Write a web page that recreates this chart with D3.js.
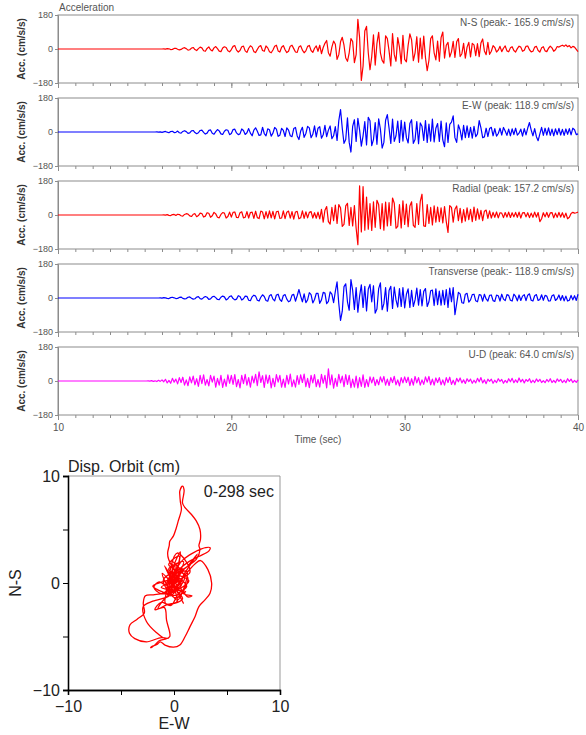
<!DOCTYPE html>
<html>
<head>
<meta charset="utf-8">
<script src="https://cdn.jsdelivr.net/npm/d3@7"></script>
<style>
body { margin: 0; background: #fff; }
svg { display: block; font-family: "Liberation Sans", Arial, sans-serif; }
</style>
</head>
<body>
<div id="chart"></div>
<script>
// samples every 0.1 s starting at 15 s (trace is flat from 10 s)
var tFirst = 10, tStart = 15, dt = 0.1;

var nsAcc = [
  0,0,0,0,0,0,0,0,0,0,
  0,1,-1,2,1,-3,-2,3,4,-1,
  -5,-2,4,7,2,-6,-4,5,8,-3,
  -8,2,10,6,-9,-12,3,11,-4,-10,
  6,13,2,-11,-14,5,12,8,-9,-15,
  -3,14,18,-6,-16,-8,12,15,-10,-18,
  4,17,10,-14,-19,-2,13,18,-8,-12,
  16,6,-15,-20,-5,14,20,-10,-16,9,
  18,-4,-19,-12,15,20,2,-16,-18,11,
  17,-6,-20,-10,14,19,-8,-18,4,16,
  -12,20,-25,8,30,45,-20,-38,10,42,
  25,-55,-30,38,62,20,-48,-65,-20,55,
  40,-72,-30,157,60,-166,-90,95,120,-20,
  -110,-40,75,-85,30,88,-20,-60,-75,70,
  55,-10,-90,82,-30,-65,60,10,-78,72,
  -55,-68,20,80,48,-62,-20,65,-70,58,
  -52,68,-45,-115,-60,55,70,-20,-58,42,
  -65,60,90,-48,20,35,-42,-15,40,-45,
  38,55,-40,-25,30,-48,10,35,-42,30,
  22,-35,28,-40,32,53,-10,-30,35,-28,
  -12,18,8,-16,-6,14,-14,4,16,-10,
  -15,6,12,-8,-16,2,15,10,-12,-6,
  14,16,-4,-15,-12,10,14,-8,-16,6,
  12,-10,-14,4,15,6,-12,-4,13,10,
  16,20,14,22,12,18,6,14,10,-2,
  -14
];

var ewAcc = [
  0,0,0,0,0,0,0,1,-1,1,
  -2,1,3,-1,-4,2,4,-3,-2,5,
  -4,-6,3,7,2,-7,-5,6,8,-3,
  -9,-4,8,10,-2,-11,-6,9,11,-7,
  -12,2,13,6,-10,-13,4,12,9,-14,
  -8,13,15,-5,-14,-10,16,8,-13,-4,
  18,-6,-20,10,22,4,-18,-15,25,-8,
  -20,17,12,-22,-6,24,15,-23,-17,19,
  8,-24,22,10,-20,-25,18,24,-21,-40,
  5,25,-28,-8,30,22,-30,-12,32,-26,
  20,28,-33,-15,35,-25,10,32,-35,-20,
  28,-45,60,119,20,-60,-40,75,-55,-106,
  30,65,-50,72,10,-75,-20,55,-68,78,
  60,-72,-40,50,-65,70,15,-85,-55,62,
  92,20,-60,68,-50,-20,58,-55,62,-48,
  52,-30,-58,45,65,-60,-40,55,-62,48,
  30,-45,60,-55,42,-48,68,-52,20,45,
  -50,58,-42,-78,48,-55,40,52,85,-30,
  -55,38,10,-42,35,-30,32,-28,25,-32,
  30,-25,-10,60,22,-30,-26,20,-24,18,
  25,-20,18,-22,-8,20,-16,24,5,-18,
  15,-20,17,-14,20,-17,-6,15,-22,18,
  -15,21,50,10,-20,18,-25,-46,-10,25,
  -18,20,-16,22,-18,15,-20,17,-14,19,
  -16,14,-18,16,-12,18,-15,20,12,-14,
  -10
];

var radialAcc = [
  0,0,0,0,0,0,0,0,0,0,
  0,1,-1,2,-2,-3,2,3,-2,4,
  2,-4,-6,3,7,5,-5,-8,4,7,
  -9,-3,10,8,-11,-6,12,9,-12,-4,
  14,6,-12,-15,3,13,10,-16,-8,15,
  -11,14,16,-13,-14,12,17,-15,-12,18,
  -16,13,15,-18,20,-14,-19,21,16,-20,
  18,-17,22,-15,19,-21,17,20,-18,-16,
  22,-19,15,21,-17,18,-22,16,19,-20,
  -15,22,-18,17,-15,14,18,-16,12,-17,
  15,-20,30,-38,25,45,-35,-48,40,-30,
  52,-45,55,38,-60,-50,48,62,-55,40,
  -58,50,-70,-157,154,-90,150,-80,95,-75,
  60,-82,70,-65,78,55,-72,60,-80,68,
  -58,65,-55,90,62,-70,-60,55,-68,75,
  -50,58,-62,48,70,-55,-65,60,-50,72,
  110,-58,-60,55,-45,40,-52,48,-38,42,
  -35,38,-42,45,-35,-92,50,40,-38,30,
  48,-30,35,-40,28,-32,38,-25,30,-35,
  42,-28,32,-22,25,-30,20,26,-18,22,
  -16,14,-12,16,-15,12,10,-14,13,-11,
  15,-13,12,-10,14,-12,15,-16,11,13,
  -10,12,-14,10,-12,15,-11,13,-35,-20,
  12,-10,14,-12,11,13,-15,10,-12,14,
  -11,12,-14,10,-20,-12,8,14,10,12,
  15
];

var transAcc = [
  0,0,0,0,0,0,0,0,0,1,
  -1,2,1,-2,-3,2,4,1,-3,-2,
  3,5,-2,-5,-3,4,6,-1,-6,-4,
  5,7,-3,-6,2,8,4,-7,-5,6,
  9,2,-8,-9,4,10,6,-10,-4,8,
  11,-3,-10,-6,12,8,-11,-4,10,9,
  -12,-14,6,15,10,-12,-16,4,17,8,
  -13,-17,12,18,-6,-15,16,20,-8,-18,
  13,18,-6,-20,-14,15,19,-17,12,45,
  10,-20,22,-25,-10,28,18,-26,-8,24,
  25,-28,-10,30,26,-30,-18,32,20,-25,
  35,85,-30,-119,-70,60,75,-20,-65,98,
  40,-60,55,-75,10,70,-50,62,-68,48,
  72,-20,65,-80,-58,50,80,-62,-30,55,
  -70,40,62,-55,58,-10,-48,50,-45,55,
  -52,20,48,-50,40,-45,-10,52,-38,45,
  -42,35,50,-45,-20,38,42,-40,48,-35,
  36,-38,40,-35,45,-50,52,-20,55,-88,
  -30,30,22,-25,-28,20,25,-22,-10,18,
  20,-15,-20,18,15,-17,20,-5,-16,14,
  16,-14,-18,15,12,-16,20,-6,-14,18,
  14,-12,-16,20,8,-15,16,-13,10,18,
  -14,15,22,-12,-16,12,18,-13,-8,17,
  -12,14,10,-16,-15,12,17,-13,-4,16,
  -12,13,-15,10,-16,-12,14,-10,12,-13,
  20
];

var udAcc = [
  0,0,1,-1,2,-2,1,-3,4,-2,
  6,-4,9,-10,3,-12,14,-6,10,-15,
  18,-8,20,-22,6,-25,22,-10,26,-20,
  12,-28,30,-14,32,-22,8,-26,30,-6,
  26,-32,14,-22,30,-34,10,-28,32,-12,
  30,-18,34,-30,8,-36,30,-14,35,-22,
  18,-32,26,-10,35,-24,49,-8,28,-34,
  32,-12,30,-36,14,-30,34,-6,30,-32,
  10,-34,30,-16,36,-30,6,-32,28,-18,
  32,-8,36,-30,14,-35,30,-10,34,-30,
  8,-32,35,-12,30,-36,64,-20,32,-38,
  14,-28,35,-10,26,-30,34,-18,30,-35,
  10,-32,26,-36,18,-28,32,-34,8,-30,
  22,-10,20,-24,8,-20,22,-6,24,-22,
  10,-24,18,-8,25,-20,6,-26,18,-10,
  22,-8,20,-24,12,-22,24,-10,18,-22,
  6,-18,22,-6,24,-20,10,-22,16,-8,
  18,-20,6,-22,18,-8,20,-18,4,-20,
  14,-4,16,-10,6,-13,12,-3,10,-12,
  4,-10,14,-4,18,-10,6,-14,10,-2,
  10,-12,4,-8,12,-2,8,-12,3,-9,
  12,-4,14,-9,6,-8,16,-5,9,-10,
  8,-2,12,-9,4,-8,11,-3,9,-8,
  2,-9,8,-4,12,-8,3,-9,11,-2,
  9,-8,4,-9,12,-2,10,-8,3,-7,
  6
];

var traceLabels = [
  "N-S (peak:- 165.9 cm/s/s)",
  "E-W (peak: 118.9 cm/s/s)",
  "Radial (peak: 157.2 cm/s/s)",
  "Transverse (peak:- 118.9 cm/s/s)",
  "U-D (peak: 64.0 cm/s/s)"
];
var accTicks = [-180, 0, 180];
var timeTicks = [10, 20, 30, 40];

// displacement orbit, cm
var orbitEW = [0,0.4,-0.3,0.7,-0.6,0.9,-1.0,0.2,1.3,-0.5,0.5,-0.2,1.1,-1.2,1.5,0.3,-0.4,0.8,-0.8,0.6,
  1.6,2.6,3.4,3.3,2.4,1.4,0.4,-0.7,-1.4,-1.9,-1.2,0.1,1.0,2.2,1.3,-0.2,0.9,1.7,1.3,0.5,-0.9,-1.5,-0.6,0.3,-0.3,0.6,0.2,-0.5,-0.6,
  -0.45,-0.4,-0.05,0.2,0.4,0.7,0.6,0.55,0.55,0.8,0.95,0.9,0.8,1.0,1.65,2.1,2.45,2.5,2.35,2.45,2.1,1.2,0.4,-0.5,0.8,-0.2,
  1.0,2.0,2.5,3.2,3.55,3.4,2.9,2.35,2.0,1.5,1.05,0.55,-0.05,-0.85,-1.3,-1.6,-2.1,-2.2,-1.8,-1.4,-0.7,-1.2,
  -2.6,-3.7,-4.2,-4.15,-3.5,-2.8,-2.9,-2.7,-1.95,-1.0,-0.2,0.5,-1.1,-2.0,-1.6,-0.5,
  -2.0,-2.9,-2.6,-1.7,-0.8,-0.4,-0.7,-0.9,-1.8,-1.2,-0.3,0.4,1.2,0.2,-0.5,0.9,0.1,-0.3,0.5,
  -0.8,0.6,-0.4,1.0,-0.2,0.7,-1.1,0.3,1.2,-0.6,0.1,0.9,-0.9,0.4,-0.3,1.4,-0.7,0.2,0.0];
var orbitNS = [0,0.6,1.0,-0.2,-0.7,1.3,0.3,-1.4,0.5,1.7,2.5,-1.1,-0.8,-0.4,1.0,2.8,0.2,-1.5,-1.9,1.9,
  2.7,3.2,3.3,3.0,2.5,2.0,1.2,-0.2,0.1,-0.4,-1.0,-0.6,0.9,2.7,1.6,0.4,-1.0,-1.2,-1.3,-0.5,-1.5,-2.4,-2.0,-1.7,0.6,2.9,1.1,2.2,2.8,
  3.5,3.9,4.4,5.1,5.8,6.9,7.6,8.2,8.6,9.05,8.7,8.2,7.5,7.1,6.4,5.8,5.0,4.1,3.5,3.1,2.2,1.5,0.8,-0.3,0.3,-0.9,
  0.7,1.8,2.1,1.25,0.0,-0.95,-1.6,-2.2,-3.1,-4.1,-5.0,-5.8,-6.0,-5.8,-5.5,-5.75,-5.95,-6.05,-5.8,-5.4,-5.2,-5.1,
  -5.5,-5.2,-4.7,-3.9,-3.4,-2.8,-1.9,-1.2,-1.1,-0.95,-0.3,0.4,0.1,-0.3,-0.6,-1.2,
  -1.7,-2.2,-3.6,-4.6,-5.2,-5.0,-3.5,-2.3,-2.5,-1.8,-2.1,-1.0,-0.3,0.7,1.3,2.0,0.2,-0.5,0.6,
  -0.2,1.4,-1.2,0.5,2.0,-0.8,0.9,-1.6,1.1,0.3,-0.5,-1.9,1.6,-0.4,0.8,0.2,-1.0,1.8,0.0];
var orbitTicks = [-10, 0, 10];
var orbitMinor = [-5, 5];

var traces = [nsAcc, ewAcc, radialAcc, transAcc, udAcc];
var traceColors = ["#ff0000", "#0000ff", "#ff0000", "#0000ff", "#ff00ff"];
var axisGray = "#8c8c8c", textGray = "#555";

var svg = d3.select("#chart").append("svg")
  .attr("width", 586).attr("height", 735);

var left = 58, right = 578, panelH = 68, panelGap = 83;

var x = d3.scaleLinear().domain([10, 40]).range([left, right]);

traces.forEach(function(vals, i) {
  var top = 15 + i * panelGap;
  var y = d3.scaleLinear().domain([-180, 180]).range([top + panelH, top]);
  var g = svg.append("g");

  // frame
  g.append("rect")
    .attr("x", left).attr("y", top)
    .attr("width", right - left).attr("height", panelH)
    .attr("fill", "none").attr("stroke", axisGray);

  // y axis
  var ya = g.append("g")
    .attr("transform", "translate(" + left + ",0)")
    .call(d3.axisLeft(y).tickValues(accTicks).tickSize(3).tickFormat(d3.format("d")));
  ya.select(".domain").attr("stroke", axisGray);
  ya.selectAll(".tick line").attr("stroke", axisGray);
  ya.selectAll("text").attr("fill", textGray).attr("font-size", 9).attr("dx", "1");

  // x axis, minor + major ticks
  var xmin = g.append("g")
    .attr("transform", "translate(0," + (top + panelH) + ")")
    .call(d3.axisBottom(x).tickValues(d3.range(10, 41, 1)).tickSize(3).tickFormat(""));
  xmin.select(".domain").remove();
  xmin.selectAll("line").attr("stroke", axisGray);
  var xmaj = g.append("g")
    .attr("transform", "translate(0," + (top + panelH) + ")")
    .call(d3.axisBottom(x).tickValues(timeTicks).tickSize(5)
      .tickFormat(i === traces.length - 1 ? d3.format("d") : ""));
  xmaj.select(".domain").remove();
  xmaj.selectAll("line").attr("stroke", axisGray);
  xmaj.selectAll("text").attr("fill", textGray).attr("font-size", 10).attr("dy", "0.8em");

  // y label
  g.append("text")
    .attr("transform", "translate(25," + (top + panelH / 2) + ") rotate(-90)")
    .attr("text-anchor", "middle")
    .attr("font-size", 10).attr("font-weight", "bold").attr("fill", "#333")
    .text("Acc. (cm/s/s)");

  // trace
  var pts = [[tFirst, 0]].concat(vals.map(function(v, k) { return [tStart + k * dt, v]; }));
  var line = d3.line().x(function(d) { return x(d[0]); }).y(function(d) { return y(d[1]); });
  g.append("path")
    .datum(pts)
    .attr("d", line)
    .attr("fill", "none")
    .attr("stroke", traceColors[i])
    .attr("stroke-width", 1.2)
    .attr("stroke-linejoin", "round");

  g.append("text")
    .attr("x", right - 4).attr("y", top + 11)
    .attr("text-anchor", "end")
    .attr("font-size", 10).attr("fill", textGray)
    .text(traceLabels[i]);
});

svg.append("text")
  .attr("x", left + 1).attr("y", 11)
  .attr("font-size", 10).attr("fill", textGray)
  .text("Acceleration");

svg.append("text")
  .attr("x", x(25)).attr("y", 443)
  .attr("text-anchor", "middle")
  .attr("font-size", 10).attr("fill", textGray)
  .text("Time (sec)");

// orbit plot
var ox = d3.scaleLinear().domain([-10, 10]).range([68, 280]);
var oy = d3.scaleLinear().domain([-10, 10]).range([690, 476]);
var og = svg.append("g");

og.append("line").attr("x1", 68).attr("x2", 280).attr("y1", 476).attr("y2", 476).attr("stroke", "#999");
og.append("line").attr("x1", 280).attr("x2", 280).attr("y1", 476).attr("y2", 690).attr("stroke", "#999");

var oxa = og.append("g").attr("transform", "translate(0,690)")
  .call(d3.axisBottom(ox).tickValues(orbitTicks).tickSize(5).tickFormat(d3.format("d")));
oxa.append("g").call(d3.axisBottom(ox).tickValues(orbitMinor).tickSize(5).tickFormat(""));
oxa.selectAll(".domain").attr("stroke", "#000").attr("stroke-width", 1.3);
oxa.selectAll("text").attr("font-size", 16).attr("fill", "#222").attr("dy", "0.85em");

var oya = og.append("g").attr("transform", "translate(68,0)")
  .call(d3.axisLeft(oy).tickValues(orbitTicks).tickSize(5).tickFormat(d3.format("d")));
oya.append("g").call(d3.axisLeft(oy).tickValues(orbitMinor).tickSize(5).tickFormat(""));
oya.selectAll(".domain").attr("stroke", "#000").attr("stroke-width", 1.3);
oya.selectAll("text").attr("font-size", 16).attr("fill", "#222");

var orbitPts = orbitEW.map(function(e, k) { return [e, orbitNS[k]]; });
og.append("path")
  .datum(orbitPts)
  .attr("d", d3.line().x(function(d) { return ox(d[0]); }).y(function(d) { return oy(d[1]); })
    .curve(d3.curveCatmullRom.alpha(0.5)))
  .attr("fill", "none")
  .attr("stroke", "#ff0000")
  .attr("stroke-width", 1.3);

og.append("text").attr("x", 68).attr("y", 472)
  .attr("font-size", 16).attr("fill", "#222").text("Disp. Orbit (cm)");
og.append("text").attr("x", 274).attr("y", 497).attr("text-anchor", "end")
  .attr("font-size", 16).attr("fill", "#222").text("0-298 sec");
og.append("text").attr("x", 174).attr("y", 729).attr("text-anchor", "middle")
  .attr("font-size", 16).attr("fill", "#222").text("E-W");
og.append("text")
  .attr("transform", "translate(21,583) rotate(-90)")
  .attr("text-anchor", "middle")
  .attr("font-size", 16).attr("fill", "#222").text("N-S");
</script>
</body>
</html>
